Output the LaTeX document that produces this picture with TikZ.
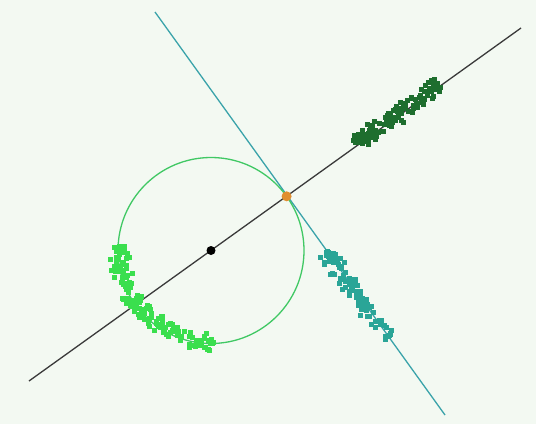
\documentclass[tikz,border=0pt]{standalone}
\begin{document}
\begin{tikzpicture}[x=1pt,y=-1pt,
  bgc/.style={fill=bgcol},
  blackline/.style={draw=blkline,line width=1.3pt},
  tealline/.style={draw=tealcol,line width=1.3pt},
  circline/.style={draw=circcol,line width=1.3pt},
  dkpt/.style={fill=dkgreen},
  tlpt/.style={fill=tealpt},
  ltpt/.style={fill=ltgreen}]
\definecolor{bgcol}{HTML}{F3F9F2}
\definecolor{blkline}{HTML}{3A3A3A}
\definecolor{tealcol}{HTML}{3AA3AA}
\definecolor{circcol}{HTML}{40C864}
\definecolor{dkgreen}{HTML}{1E6E2E}
\definecolor{tealpt}{HTML}{2AA597}
\definecolor{ltgreen}{HTML}{3ADF4E}
\definecolor{orangept}{HTML}{E08E30}
\fill[bgc] (0,0) rectangle (536,424);
\useasboundingbox (0,0) rectangle (536,424);
\coordinate (C) at (211,250.5);
\coordinate (T) at (286.6,196.3);
\coordinate (A1) at (29,381);
\coordinate (A2) at (521,28);
\coordinate (B1) at (155,12);
\coordinate (B2) at (445,415);
% lines
\draw[tealline] (B1) -- (B2);
\draw[blackline] (A1) -- (A2);
\draw[circline] (C) circle[radius=93];
\pgfmathsetseed{42}
% dark green cluster along black line
\foreach \i in {1,...,130}{
  \pgfmathsetmacro{\s}{177+105*rnd}
  \pgfmathsetmacro{\o}{(rnd+rnd-1)*11-2}
  \pgfmathsetmacro{\px}{211+\s*0.8125+\o*0.583}
  \pgfmathsetmacro{\py}{250.5-\s*0.583+\o*0.8125}
  \fill[dkpt] (\px-2.5,\py-2.5) rectangle +(5,5);
}
% teal cluster along teal line
\foreach \i in {1,...,100}{
  \pgfmathsetmacro{\t}{68+107*rnd}
  \pgfmathsetmacro{\o}{(rnd+rnd-1)*11}
  \pgfmathsetmacro{\px}{286.6+\t*0.583-\o*0.8125}
  \pgfmathsetmacro{\py}{196.3+\t*0.8125+\o*0.583}
  \fill[tlpt] (\px-2.5,\py-2.5) rectangle +(5,5);
}
% light green cluster along circle arc
\foreach \i in {1,...,160}{
  \pgfmathsetmacro{\a}{88+95*rnd}
  \pgfmathsetmacro{\r}{93+(rnd+rnd-1)*11-2}
  \pgfmathsetmacro{\px}{211+\r*cos(\a)}
  \pgfmathsetmacro{\py}{250.5+\r*sin(\a)}
  \fill[ltpt] (\px-2.5,\py-2.5) rectangle +(5,5);
}
% centre and tangent point
\fill[black] (C) circle[radius=4.5];
\fill[orangept] (T) circle[radius=5];
\end{tikzpicture}
\end{document}
